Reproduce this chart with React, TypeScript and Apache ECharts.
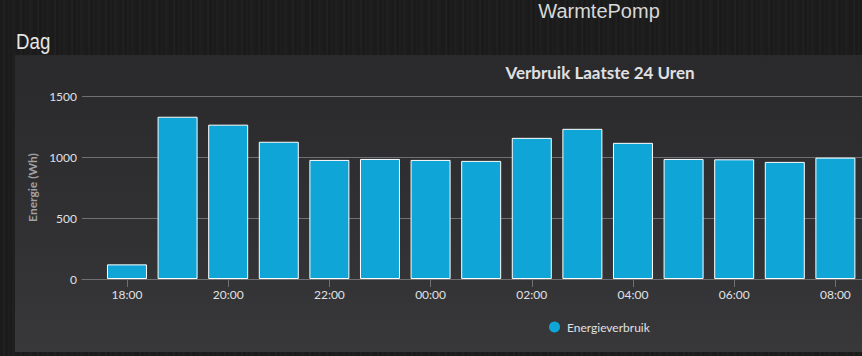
import React, { useEffect, useRef } from 'react';
import * as echarts from 'echarts';

const hours = ['18:00', '19:00', '20:00', '21:00', '22:00', '23:00', '00:00', '01:00', '02:00', '03:00', '04:00', '05:00', '06:00', '07:00', '08:00'];
const energy = [120, 1330, 1265, 1125, 976, 984, 976, 968, 1157, 1231, 1116, 984, 981, 960, 995];
const labelIdx = [0, 2, 4, 6, 8, 10, 12, 14];
const seriesName = 'Energieverbruik';

export default function App() {
  const ref = useRef<HTMLDivElement>(null);
  useEffect(() => {
    const chart = echarts.init(ref.current!, null, { renderer: 'svg' });
    chart.setOption({
      animation: false,
      graphic: [
        {
          type: 'text', x: 599, y: 1,
          style: { text: 'WarmtePomp', fill: '#d8d8d8', font: '20px "Liberation Sans", Arial, sans-serif', textAlign: 'center', textVerticalAlign: 'top' },
        },
        {
          type: 'text', x: 16, y: 41, scaleX: 0.85,
          style: { text: 'Dag', fill: '#e6e6e6', font: '22px "Liberation Sans", Arial, sans-serif', textAlign: 'left', textVerticalAlign: 'middle' },
        },
        {
          type: 'text', x: 600, y: 72,
          style: { text: 'Verbruik Laatste 24 Uren', fill: '#e0e0e3', font: 'bold 17px Lato, sans-serif', textAlign: 'center', textVerticalAlign: 'middle' },
        },
      ],
      legend: {
        data: [seriesName],
        icon: 'circle',
        left: 544,
        top: 316,
        itemWidth: 11,
        itemHeight: 11,
        itemGap: 10,
        itemStyle: { borderWidth: 0 },
        textStyle: { color: '#e0e0e3', fontSize: 12, fontFamily: 'Lato', padding: [0, 0, 0, 2] },
      },
      grid: { left: 82, right: 0, top: 96, bottom: 77 },
      xAxis: {
        type: 'value',
        min: -0.889,
        max: 14.526,
        axisLine: { show: true, onZero: false, lineStyle: { color: '#707073', width: 1 } },
        axisTick: { show: true, length: 8, customValues: labelIdx, lineStyle: { color: '#707073' } },
        axisLabel: {
          customValues: labelIdx,
          formatter: (v: number) => hours[Math.round(v)] ?? '',
          color: '#e0e0e3', fontSize: 12, fontFamily: 'Lato', margin: 9,
        },
        splitLine: { show: false },
      },
      yAxis: {
        type: 'value',
        min: 0,
        max: 1500,
        interval: 500,
        name: 'Energie (Wh)',
        nameLocation: 'middle',
        nameGap: 41,
        nameTextStyle: { color: '#a0a0a3', fontSize: 12, fontWeight: 'bold', fontFamily: 'Lato' },
        axisLine: { show: false },
        axisTick: { show: false },
        axisLabel: { color: '#e0e0e3', fontSize: 12, fontFamily: 'Lato', margin: 5, formatter: (v: number) => String(v) },
        splitLine: { lineStyle: { color: '#707073', width: 1 } },
      },
      series: [
        {
          name: seriesName,
          type: 'bar',
          barWidth: 40,
          data: energy.map((v, i) => [i, v]),
          itemStyle: { color: '#0fa5d6', borderColor: '#ffffff', borderWidth: 1 },
        },
      ],
    });
    return () => chart.dispose();
  }, []);

  const stripes =
    'repeating-linear-gradient(90deg, #1b1b1b 0px, #1b1b1b 3px, #242424 4px, #181818 6px, #1f1f1f 9px, #1a1a1a 11px, #202020 13px, #1b1b1b 17px)';

  return (
    <div style={{ position: 'fixed', left: 0, top: 0, width: 862, height: 356, overflow: 'hidden', background: stripes }}>
      <div
        style={{
          position: 'absolute', left: 15, top: 55, width: 900, height: 297,
          background: 'linear-gradient(180deg, #2a2a2c 0%, #313133 60%, #38383a 100%)',
        }}
      />
      <div ref={ref} style={{ position: 'absolute', left: 0, top: 0, width: 862, height: 356 }} />
    </div>
  );
}
